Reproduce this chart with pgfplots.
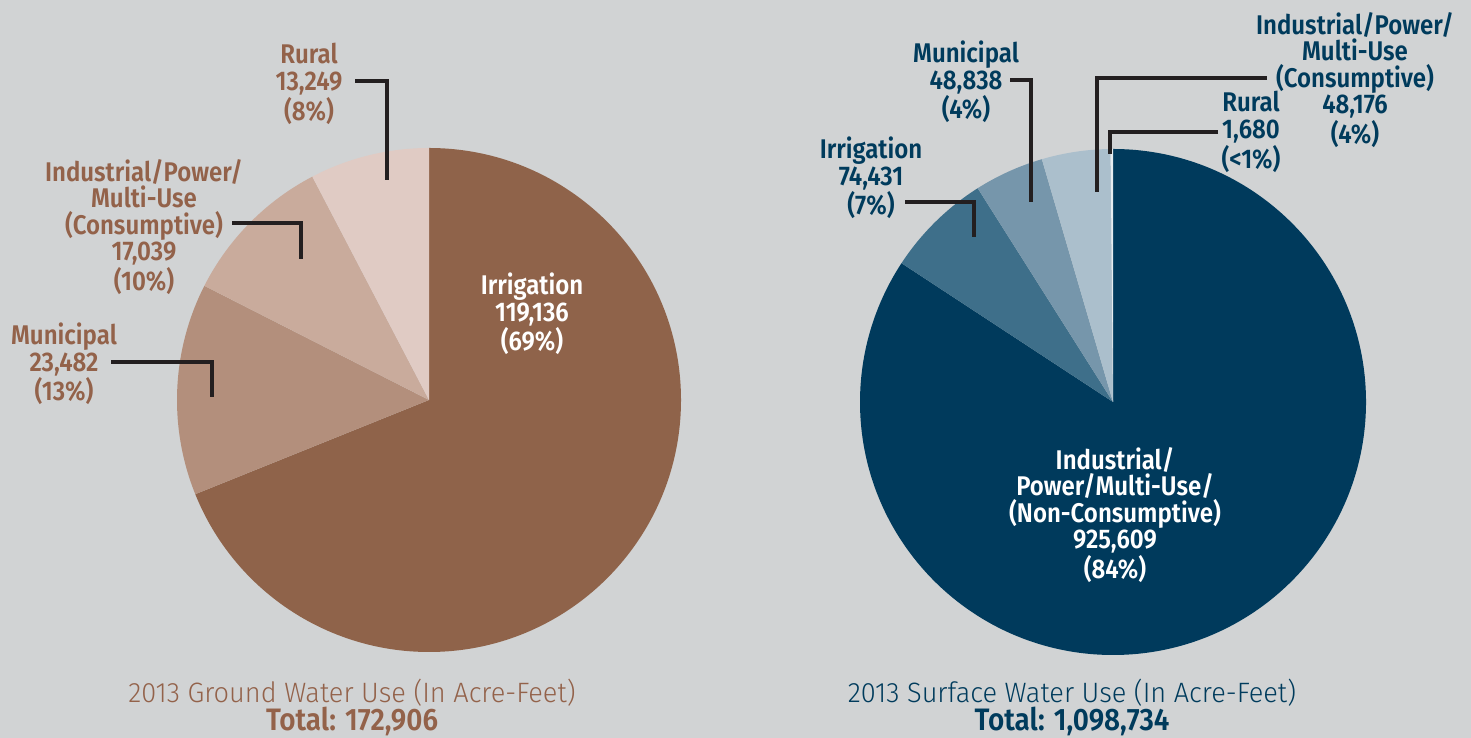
\documentclass[border=0pt]{standalone}
\usepackage{pgfplots}
\pgfplotsset{compat=1.18}
\usepackage{fontspec}
\setmainfont{Fira Sans}
\newfontfamily\lbl{Fira Sans}[UprightFont=* SemiBold, FakeStretch=0.89]
\newfontfamily\tbl{Fira Sans}[UprightFont=* SemiBold, FakeStretch=0.9]
\newfontfamily\lgt{Fira Sans}[UprightFont=* Light, FakeStretch=0.97]
\definecolor{bg}{HTML}{D1D3D4}
\definecolor{gI}{HTML}{8F634A}
\definecolor{gM}{HTML}{B38F7C}
\definecolor{gP}{HTML}{C9AB9C}
\definecolor{gR}{HTML}{E0CBC4}
\definecolor{gT}{HTML}{93624A}
\definecolor{sN}{HTML}{003A5C}
\definecolor{sI}{HTML}{3E6F8A}
\definecolor{sM}{HTML}{7696AB}
\definecolor{sP}{HTML}{ABBFCC}
\definecolor{sR}{HTML}{E6ECF0}
\definecolor{sT}{HTML}{003B5C}
\definecolor{ln}{HTML}{231F20}
% cx cy radius before value total color
\newcommand\slice[7]{%
\fill[#7] (axis cs:#1,#2) -- ++(\fpeval{90-(#4)/(#6)*360}:#3) arc[start angle=\fpeval{90-(#4)/(#6)*360}, delta angle=\fpeval{-(#5)/(#6)*360}, radius=#3] -- cycle;}
\begin{document}
\begin{tikzpicture}[
  lab/.style={align=center,inner sep=0pt,font=\lbl\fontsize{13.5}{13.3}\selectfont},
  ttl/.style={inner sep=0pt,font=\lgt\fontsize{14}{14}\selectfont},
  tot/.style={inner sep=0pt,font=\tbl\fontsize{15.5}{16}\selectfont},
  ldr/.style={ln,line width=1.55pt}]
\begin{axis}[x=0.5pt,y=0.5pt,xmin=0,xmax=1471,ymin=0,ymax=738,hide axis,clip=false]
\fill[bg] (axis cs:0,0) rectangle (axis cs:1471,738);
% Ground water (total 172,906)
\slice{429}{338}{126pt}{0}{119136}{172906}{gI}
\slice{429}{338}{126pt}{119136}{23482}{172906}{gM}
\slice{429}{338}{126pt}{119136+23482}{17039}{172906}{gP}
\slice{429}{338}{126pt}{119136+23482+17039}{13249}{172906}{gR}
% Surface water (total 1,098,734)
\slice{1113}{336}{126.5pt}{0}{925609}{1098734}{sN}
\slice{1113}{336}{126.5pt}{925609}{74431}{1098734}{sI}
\slice{1113}{336}{126.5pt}{925609+74431}{48838}{1098734}{sM}
\slice{1113}{336}{126.5pt}{925609+74431+48838}{48176}{1098734}{sP}
\slice{1113}{336}{126.5pt}{925609+74431+48838+48176}{1680}{1098734}{sR}
% leader lines
\draw[ldr] (axis cs:355,657) -- (axis cs:387,657) -- (axis cs:387,558);
\draw[ldr] (axis cs:232,515) -- (axis cs:301,515) -- (axis cs:301,479);
\draw[ldr] (axis cs:111,376) -- (axis cs:212,376) -- (axis cs:212,341);
\draw[ldr] (axis cs:1010,658) -- (axis cs:1031,658) -- (axis cs:1031,536);
\draw[ldr] (axis cs:1267,660) -- (axis cs:1097,660) -- (axis cs:1097,546);
\draw[ldr] (axis cs:1218,606) -- (axis cs:1110,606) -- (axis cs:1110,584);
\draw[ldr] (axis cs:905,536) -- (axis cs:974,536) -- (axis cs:974,501);
% labels ground
\node[lab,text=gT] at (axis cs:309,654) {Rural\\13,249\\(8\%)};
\node[lab,text=gT] at (axis cs:144,511) {Industrial/Power/\\Multi-Use\\(Consumptive)\\17,039\\(10\%)};
\node[lab,text=gT] at (axis cs:64,374) {Municipal\\23,482\\(13\%)};
\node[lab,text=white] at (axis cs:532,424) {Irrigation\\119,136\\(69\%)};
\node[ttl,text=gT] at (axis cs:352,45) {2013 Ground Water Use (In Acre-Feet)};
\node[tot,text=gT] at (axis cs:352,17) {Total: 172,906};
% labels surface
\node[lab,text=sT] at (axis cs:871,560) {Irrigation\\74,431\\(7\%)};
\node[lab,text=sT] at (axis cs:966,656) {Municipal\\48,838\\(4\%)};
\node[lab,text=sT] at (axis cs:1355,658) {Industrial/Power/\\Multi-Use\\(Consumptive)\\48,176\\(4\%)};
\node[lab,text=sT] at (axis cs:1251,606) {Rural\\1,680\\(<1\%)};
\node[lab,text=white] at (axis cs:1115,223) {Industrial/\\Power/Multi-Use/\\(Non-Consumptive)\\925,609\\(84\%)};
\node[ttl,text=sT] at (axis cs:1072,45) {2013 Surface Water Use (In Acre-Feet)};
\node[tot,text=sT] at (axis cs:1072,17) {Total: 1,098,734};
\end{axis}
\pgfresetboundingbox
\useasboundingbox (current axis.south west) rectangle (current axis.north east);
\end{tikzpicture}
\end{document}
